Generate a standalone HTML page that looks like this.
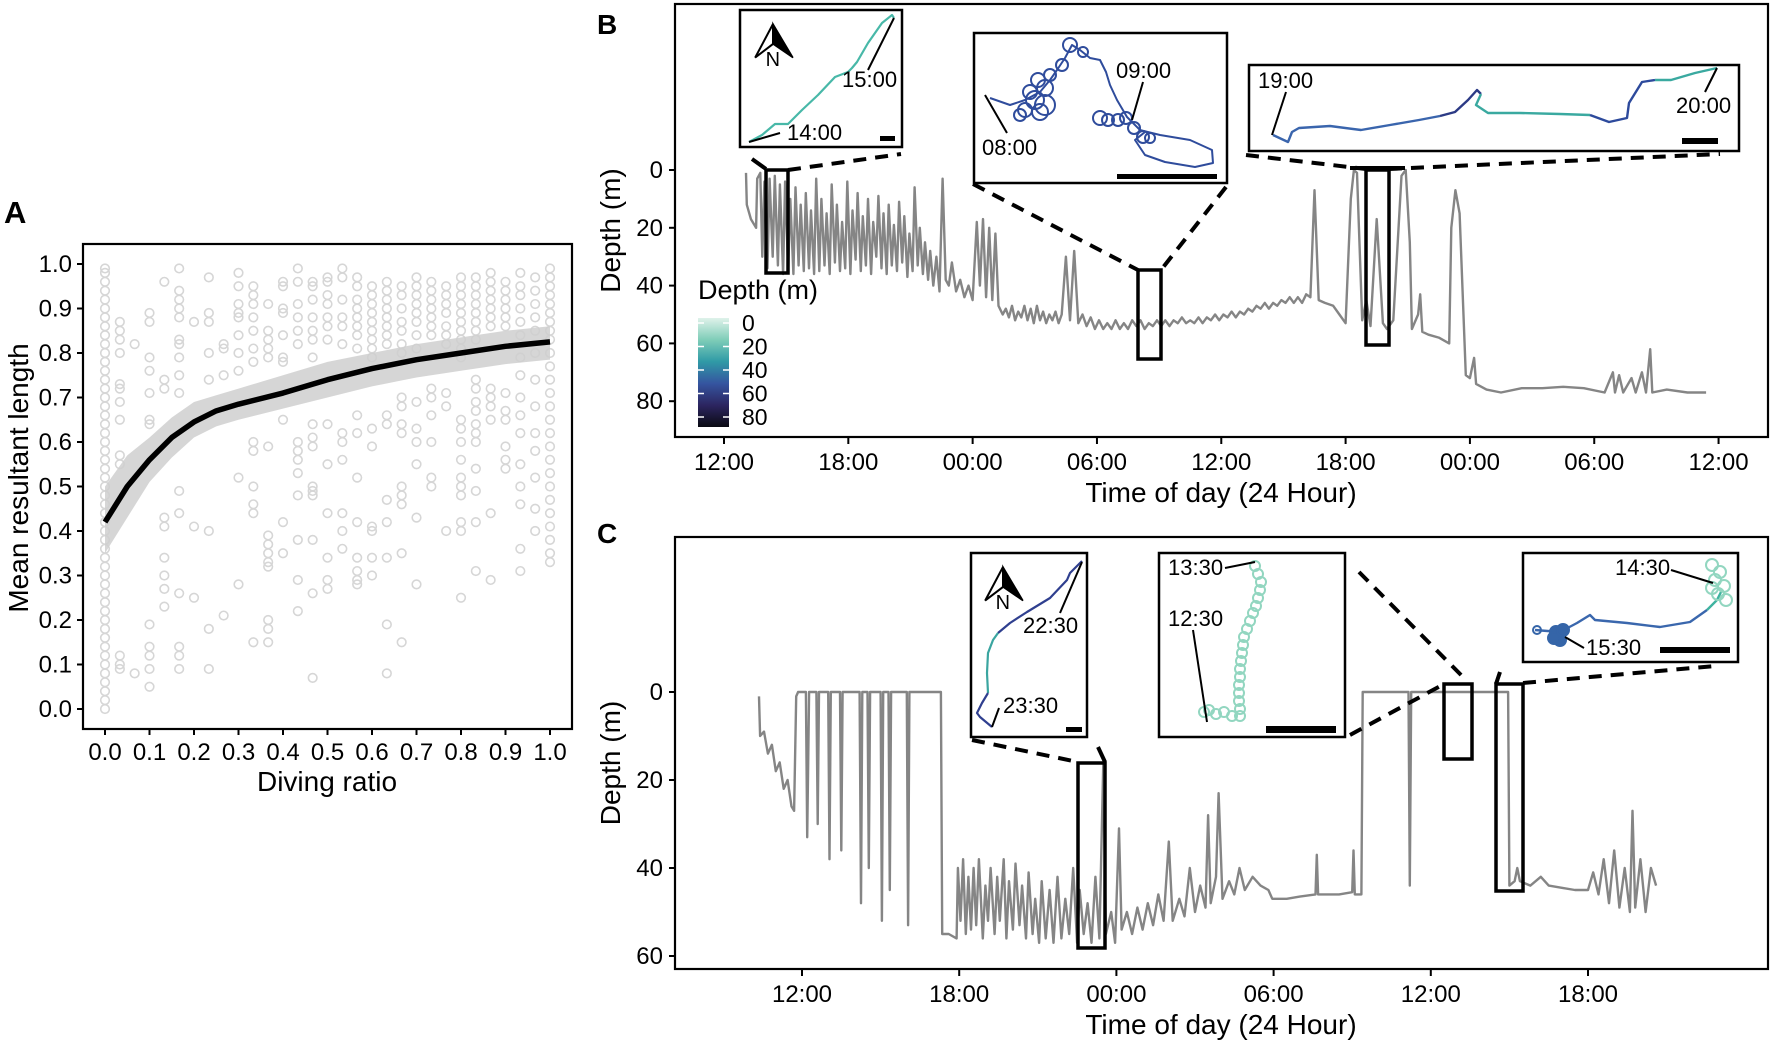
<!DOCTYPE html>
<html><head><meta charset="utf-8">
<style>
html,body{margin:0;padding:0;background:#fff;}
svg{display:block;font-family:"Liberation Sans",Arial,sans-serif;}
</style></head>
<body>
<svg id="fig" width="1772" height="1045" viewBox="0 0 1772 1045" xmlns="http://www.w3.org/2000/svg">
<defs>
<linearGradient id="cbar" x1="0" y1="0" x2="0" y2="1">
<stop offset="0" stop-color="#dff2ea"/><stop offset="0.2" stop-color="#7fcdb8"/><stop offset="0.4" stop-color="#2f9aa6"/><stop offset="0.6" stop-color="#3555a0"/><stop offset="0.8" stop-color="#2c2560"/><stop offset="1" stop-color="#0a0a12"/>
</linearGradient>
</defs>
<g id="panelA"></g>
<g id="panelB"></g>
<g id="panelC"></g>
</svg>
<script>
// ---------- Panel A data ----------
const aColumns = [
 [0,0.02,0.04,0.06,0.08,0.1,0.12,0.14,0.16,0.18,0.2,0.22,0.24,0.26,0.28,0.3,0.32,0.34,0.36,0.38,0.4,0.42,0.44,0.46,0.48,0.5,0.52,0.54,0.56,0.58,0.6,0.62,0.64,0.66,0.68,0.7,0.72,0.74,0.76,0.78,0.8,0.82,0.84,0.86,0.88,0.9,0.92,0.94,0.96,0.98,0.99],
 [0.87,0.85,0.83,0.80,0.73,0.72,0.69,0.65,0.57,0.55,0.12,0.10,0.09],
 [0.82,0.08],
 [0.89,0.87,0.79,0.76,0.71,0.65,0.64,0.19,0.14,0.12,0.09,0.05],
 [0.96,0.74,0.72,0.43,0.41,0.34,0.30,0.27,0.23],
 [0.99,0.94,0.92,0.90,0.88,0.83,0.82,0.79,0.75,0.71,0.49,0.44,0.26,0.14,0.12,0.09],
 [0.87,0.41,0.25],
 [0.97,0.89,0.87,0.80,0.74,0.40,0.18,0.09],
 [0.82,0.81,0.75,0.21],
 [0.98,0.95,0.91,0.89,0.88,0.84,0.80,0.76,0.52,0.28],
 [0.95,0.93,0.91,0.88,0.85,0.81,0.78,0.60,0.58,0.50,0.46,0.44,0.15],
 [0.91,0.85,0.83,0.81,0.79,0.59,0.39,0.37,0.35,0.33,0.32,0.20,0.18,0.15],
 [0.96,0.95,0.90,0.89,0.84,0.79,0.78,0.65,0.42,0.35],
 [0.99,0.96,0.91,0.88,0.85,0.82,0.60,0.58,0.56,0.53,0.48,0.38,0.29,0.22],
 [0.96,0.95,0.92,0.88,0.85,0.83,0.79,0.64,0.61,0.59,0.50,0.49,0.48,0.38,0.26,0.07],
 [0.97,0.96,0.93,0.91,0.88,0.86,0.83,0.64,0.55,0.44,0.34,0.29,0.27],
 [0.99,0.97,0.92,0.88,0.86,0.82,0.62,0.60,0.56,0.44,0.40,0.36],
 [0.97,0.95,0.92,0.90,0.88,0.86,0.84,0.81,0.66,0.62,0.52,0.42,0.34,0.31,0.29,0.28],
 [0.95,0.93,0.91,0.89,0.87,0.85,0.83,0.81,0.79,0.63,0.59,0.41,0.40,0.34,0.30],
 [0.96,0.94,0.92,0.90,0.88,0.86,0.84,0.82,0.66,0.64,0.47,0.42,0.34,0.19,0.08],
 [0.95,0.93,0.90,0.87,0.85,0.82,0.80,0.70,0.68,0.64,0.62,0.50,0.48,0.46,0.35,0.15],
 [0.97,0.95,0.93,0.91,0.89,0.87,0.84,0.81,0.69,0.63,0.60,0.55,0.43,0.28],
 [0.96,0.94,0.92,0.90,0.88,0.86,0.84,0.72,0.70,0.66,0.60,0.52,0.50],
 [0.95,0.93,0.91,0.89,0.86,0.84,0.82,0.71,0.68,0.40],
 [0.97,0.95,0.93,0.91,0.89,0.87,0.85,0.83,0.81,0.79,0.65,0.63,0.60,0.56,0.52,0.50,0.48,0.42,0.40,0.25],
 [0.97,0.95,0.93,0.91,0.89,0.87,0.85,0.83,0.74,0.72,0.69,0.67,0.64,0.62,0.60,0.54,0.49,0.42,0.31],
 [0.98,0.96,0.94,0.92,0.90,0.88,0.86,0.72,0.70,0.68,0.65,0.44,0.29],
 [0.96,0.94,0.92,0.90,0.88,0.86,0.71,0.67,0.65,0.59,0.56,0.54],
 [0.98,0.95,0.93,0.90,0.87,0.84,0.79,0.75,0.70,0.66,0.62,0.55,0.50,0.46,0.36,0.31],
 [0.97,0.94,0.91,0.88,0.85,0.80,0.74,0.68,0.62,0.58,0.52,0.45,0.40],
 [0.99,0.97,0.95,0.93,0.91,0.89,0.87,0.85,0.83,0.80,0.77,0.74,0.71,0.68,0.65,0.62,0.59,0.56,0.53,0.50,0.47,0.44,0.41,0.38,0.35,0.33]
];
const aFitX = [0,0.05,0.1,0.15,0.2,0.25,0.3,0.4,0.5,0.6,0.7,0.8,0.9,1.0];
const aFitY = [0.42,0.50,0.56,0.61,0.645,0.67,0.685,0.71,0.74,0.765,0.785,0.80,0.815,0.825];
const aFitLo = [0.35,0.43,0.51,0.565,0.61,0.635,0.65,0.675,0.70,0.725,0.745,0.76,0.775,0.785];
const aFitHi = [0.50,0.57,0.61,0.655,0.69,0.705,0.72,0.75,0.78,0.80,0.82,0.835,0.85,0.86];
const aTicks = ["0.0","0.1","0.2","0.3","0.4","0.5","0.6","0.7","0.8","0.9","1.0"];

// ---------- Panel B data (hours after 12:00 day 1, depth m) ----------
const bHours = [1.06,1.1,1.3,1.55,1.6,1.75,1.85,1.95,2.1,2.2,2.35,2.45,2.6,2.7,2.85,2.95,3.1,3.2,3.35,3.45,3.6,3.7,3.85,3.95,4.1,4.2,4.35,4.45,4.6,4.7,4.85,4.95,5.1,5.2,5.35,5.45,5.6,5.7,5.85,5.95,6.1,6.2,6.35,6.45,6.6,6.7,6.85,6.95,7.1,7.2,7.35,7.45,7.6,7.7,7.85,7.95,8.1,8.2,8.35,8.45,8.6,8.7,8.85,8.95,9.1,9.2,9.35,9.45,9.6,9.7,9.85,9.95,10.1,10.25,10.4,10.55,10.7,10.85,11.0,11.2,11.4,11.6,11.8,12.0,12.2,12.35,12.5,12.65,12.8,12.95,13.1,13.25,
13.45,13.6,13.75,13.9,14.05,14.2,14.35,14.5,14.65,14.8,14.95,15.1,15.25,15.4,15.55,15.7,15.85,16.0,16.15,16.3,16.5,16.7,16.9,17.1,17.3,17.5,17.7,17.9,18.1,18.3,18.5,18.7,18.9,19.1,19.3,19.5,19.7,19.9,20.1,20.3,20.5,20.7,20.9,21.1,21.3,21.5,21.7,21.9,22.1,22.3,22.5,22.7,22.9,23.1,23.3,23.5,23.7,23.9,24.1,24.3,24.5,24.7,24.9,25.1,25.3,25.5,25.7,25.9,26.1,26.3,26.5,26.7,26.9,27.1,27.3,27.5,27.7,27.9,28.1,28.3,
28.5,28.7,29.0,29.4,29.7,30.0,30.25,30.4,30.55,30.8,31.0,31.2,31.5,31.8,32.0,32.3,32.7,32.9,33.1,33.2,33.5,33.6,33.7,34.0,34.5,35.0,35.1,35.3,35.5,35.8,36.0,36.2,36.3,36.8,37.5,38.5,39.5,40.5,41.5,42.5,42.9,43.0,43.2,43.4,43.8,44.0,44.3,44.5,44.7,44.8,45.5,46.5,47.4];
const bDepth = [1,12,17,20,3,1,30,4,34,3,30,2,33,5,36,4,35,10,36,6,33,12,35,8,34,14,36,3,35,10,33,15,36,5,32,12,35,18,34,4,36,14,31,8,35,16,33,10,36,18,30,9,34,15,36,12,33,19,35,11,32,16,37,22,35,6,33,20,36,25,38,28,40,30,42,3,38,40,32,42,38,44,40,45,18,40,17,44,20,45,22,47,
50,48,51,47,52,49,51,47,52,48,53,47,52,49,53,50,52,49,53,50,30,52,28,53,50,54,51,55,52,55,53,55,52,55,53,55,52,54,52,55,53,54,52,54,52,54,52,53,51,53,52,53,51,53,51,52,50,52,50,51,49,51,49,50,48,49,47,48,46,48,46,47,45,46,44,46,44,46,43,44,
7,45,46,47,50,53,10,0,1,52,45,54,17,53,55,52,2,0,25,55,50,43,56,57,58,60,20,7,15,71,72,65,74,76,77,75.5,75.5,75,75.5,77,70,77,71,77,72,77,70,77,62,77,76,77,77];
const bXTicks = ["12:00","18:00","00:00","06:00","12:00","18:00","00:00","06:00","12:00"];
const bYTicks = [0,20,40,60,80];

// ---------- Panel C data (hours after 12:00 day 1, depth m) ----------
const cHours = [-1.64,-1.6,-1.45,-1.3,-1.15,-1.0,-0.85,-0.7,-0.55,-0.4,-0.3,-0.22,-0.15,0.15,0.2,0.27,0.55,0.6,0.65,1.0,1.05,1.1,1.45,1.5,1.55,2.2,2.25,2.3,2.5,2.55,2.6,3.0,3.05,3.1,3.3,3.35,3.4,4.0,4.05,4.1,5.3,5.35,5.6,5.9,5.95,6.05,6.15,6.25,6.35,6.45,6.55,6.65,6.75,6.9,7.0,7.1,7.2,7.35,7.45,7.55,7.7,7.8,7.9,8.05,8.15,8.3,8.4,8.55,8.65,8.8,8.9,9.05,9.15,9.3,9.45,9.6,9.75,9.9,10.05,10.2,10.35,10.5,10.6,10.75,10.9,11.05,11.2,11.35,11.5,11.6,11.8,11.95,12.1,12.2,12.4,12.6,12.8,13.0,13.2,13.4,13.6,13.8,14.0,14.15,14.4,14.6,14.8,15.0,15.2,15.4,15.5,15.6,15.8,15.9,16.05,16.3,16.5,16.7,16.9,17.2,17.5,17.8,17.95,18.5,19.0,19.6,19.65,19.7,20.5,21.0,21.05,21.1,21.35,21.4,23.15,23.2,23.25,26.95,27.0,27.2,27.3,27.4,27.8,28.2,28.5,29.0,29.5,30.0,30.2,30.4,30.6,30.8,31.0,31.2,31.4,31.6,31.7,31.8,32.0,32.2,32.4,32.6];
const cDepth = [1,10,9,14,12,18,16,22,20,26,27,1,0,0,33,0,0,30,0,0,38,0,0,36,0,0,48,0,0,40,0,0,52,0,0,45,0,0,53,0,0,55,55,56,40,52,38,55,42,54,40,53,38,56,44,52,40,55,42,52,38,56,43,54,39,53,44,56,41,55,47,57,43,56,45,57,42,56,47,55,40,57,45,55,48,57,42,56,16,55,50,57,31,54,50,55,49,54,48,53,46,52,34,52,47,51,40,50,44,49,28,48,42,23,47,43,46,40,45,42,44,45,47,47,46.5,46,37,46,46,45.5,36,46,46,0,0,44,0,0,44,43,40,43,44,42,44,44.5,45,45,41,46,38,48,36,49,40,50,27,49,38,50,40,44];
const cXTicks = ["12:00","18:00","00:00","06:00","12:00","18:00"];
const cYTicks = [0,20,40,60];

const NS = "http://www.w3.org/2000/svg";
function mk(parent, tag, attrs, text){
  const el = document.createElementNS(NS, tag);
  for (const k in attrs) el.setAttribute(k, attrs[k]);
  if (text !== undefined) el.textContent = text;
  parent.appendChild(el);
  return el;
}
const gA = document.getElementById('panelA');
const gB = document.getElementById('panelB');
const gC = document.getElementById('panelC');

// ===== Panel A =====
const ax = v => 105 + v * 445;
const ay = v => 709 - v * 445;
let t;
t = mk(gA,'text',{x:4,y:223,'font-size':31,'font-weight':'bold'},'A');
 
const aPts = mk(gA,'g',{fill:'none',stroke:'#d6d6d6','stroke-width':1.6});
 
aColumns.forEach((col,k)=>{
  col.forEach(v=>{
    const c = mk(aPts,'circle',{cx:ax(k/30),cy:ay(v),r:4.3});
    
    
  });
});
let rib = '';
aFitX.forEach((x,i)=>{ rib += (i?'L':'M') + ax(x) + ',' + ay(aFitHi[i]); });
for (let i=aFitX.length-1;i>=0;i--) rib += 'L' + ax(aFitX[i]) + ',' + ay(aFitLo[i]);
const ribbon = mk(gA,'path',{d:rib+'Z',fill:'#cfcfcf','fill-opacity':0.85,stroke:'none'});
 
let fit = '';
aFitX.forEach((x,i)=>{ fit += (i?'L':'M') + ax(x) + ',' + ay(aFitY[i]); });
const fitLine = mk(gA,'path',{d:fit,fill:'none',stroke:'#000','stroke-width':5.5,'stroke-linejoin':'round'});
 
const aBox = mk(gA,'rect',{x:83,y:244,width:489,height:485,fill:'none',stroke:'#000','stroke-width':2.2});
 
aTicks.forEach((lab,i)=>{
  const v = i/10;
  mk(gA,'line',{x1:77,x2:83,y1:ay(v),y2:ay(v),stroke:'#000','stroke-width':2});
  const yl = mk(gA,'text',{x:72,y:ay(v)+8,'font-size':24,'text-anchor':'end'},lab);
   
  mk(gA,'line',{x1:ax(v),x2:ax(v),y1:729,y2:735,stroke:'#000','stroke-width':2});
  const xl = mk(gA,'text',{x:ax(v),y:760,'font-size':24,'text-anchor':'middle'},lab);
   
});
t = mk(gA,'text',{x:327,y:791,'font-size':28,'text-anchor':'middle'},'Diving ratio');
 
t = mk(gA,'text',{x:0,y:0,'font-size':28,'text-anchor':'middle',transform:'translate(28,478) rotate(-90)'},'Mean resultant length');
 

// ===== helper for depth panels =====
function depthPanel(g, cfg){
  const sx = h => cfg.x0 + h * cfg.pxh;
  const sy = d => cfg.y0 + d * cfg.pxm;
  let d = '';
  cfg.hours.forEach((h,i)=>{ d += (i?'L':'M') + sx(h).toFixed(1) + ',' + sy(cfg.depth[i]).toFixed(1); });
  const tr = mk(g,'path',{d:d,fill:'none',stroke:'#858585','stroke-width':2.4,'stroke-linejoin':'round'});
   
  const fr = mk(g,'rect',{x:675,y:cfg.top,width:1093,height:cfg.bottom-cfg.top,fill:'none',stroke:'#000','stroke-width':2.2});
   
  cfg.yticks.forEach(v=>{
    mk(g,'line',{x1:669,x2:675,y1:sy(v),y2:sy(v),stroke:'#000','stroke-width':2});
    const l = mk(g,'text',{x:663,y:sy(v)+8,'font-size':24,'text-anchor':'end'},String(v));
     
  });
  cfg.xticks.forEach((lab,i)=>{
    const x = sx(i*6);
    mk(g,'line',{x1:x,x2:x,y1:cfg.bottom,y2:cfg.bottom+7,stroke:'#000','stroke-width':2});
    const l = mk(g,'text',{x:x,y:cfg.bottom+33,'font-size':24,'text-anchor':'middle'},lab);
     
  });
  const xt = mk(g,'text',{x:1221,y:cfg.bottom+65,'font-size':28,'text-anchor':'middle'},'Time of day (24 Hour)');
   
  const yt = mk(g,'text',{x:0,y:0,'font-size':28,'text-anchor':'middle',transform:'translate(620,'+((cfg.top+cfg.bottom)/2+10)+') rotate(-90)'},'Depth (m)');
   
}

// ===== Panel B =====
depthPanel(gB,{x0:724,pxh:20.72,y0:170,pxm:2.89,top:4,bottom:437,hours:bHours,depth:bDepth,xticks:bXTicks,yticks:bYTicks});
t = mk(gB,'text',{x:597,y:34,'font-size':28,'font-weight':'bold'},'B');
 
t = mk(gB,'text',{x:698,y:299,'font-size':27},'Depth (m)');
 
t = mk(gB,'rect',{x:698,y:318,width:31,height:109,fill:'url(#cbar)'});
 
[0,20,40,60,80].forEach((v,i)=>{
  const y = 323 + i*23.5;
  mk(gB,'line',{x1:698,x2:704,y1:y,y2:y,stroke:'#fff','stroke-width':1.5});
  mk(gB,'line',{x1:723,x2:729,y1:y,y2:y,stroke:'#fff','stroke-width':1.5});
  const l = mk(gB,'text',{x:742,y:y+8,'font-size':23},String(v));
   
});
function zoomRect(g,x1,y1,x2,y2){
  const r = mk(g,'rect',{x:x1,y:y1,width:x2-x1,height:y2-y1,fill:'none',stroke:'#000','stroke-width':3.5});
   
}
function dash(g,x1,y1,x2,y2){
  const l = mk(g,'line',{x1:x1,y1:y1,x2:x2,y2:y2,stroke:'#000','stroke-width':4,'stroke-dasharray':'13 9'});
   
}
zoomRect(gB,766,170,788,273);
mk(gB,'line',{x1:752,y1:159,x2:766,y2:169,stroke:'#000','stroke-width':4});
dash(gB,788,170,901,154);
zoomRect(gB,1138,270,1161,359);
dash(gB,973,184,1138,270);
dash(gB,1226,187,1161,270);
zoomRect(gB,1366,170,1389,345);
dash(gB,1246,155,1366,169);
dash(gB,1389,169,1720,154);
mk(gB,'line',{x1:1350,y1:168,x2:1405,y2:168,stroke:'#000','stroke-width':4});

function inset(g,x1,y1,x2,y2,name){
  const r = mk(g,'rect',{x:x1,y:y1,width:x2-x1,height:y2-y1,fill:'#fff',stroke:'#000','stroke-width':2.5});
   
}
function label(g,x,y,s,name){
  const l = mk(g,'text',{x:x,y:y,'font-size':22},s);
   
}
function leader(g,x1,y1,x2,y2){ mk(g,'line',{x1:x1,y1:y1,x2:x2,y2:y2,stroke:'#000','stroke-width':2}); }
function bar(g,x1,y1,x2,y2){
  const r = mk(g,'rect',{x:x1,y:y1,width:x2-x1,height:y2-y1,fill:'#000'});
   
}
function north(g,ax_,ay_,s){
  const n = mk(g,'g',{});
   
  mk(n,'path',{d:`M${ax_},${ay_} L${ax_-17*s},${ay_+32*s} L${ax_},${ay_+19*s} Z`,fill:'#fff',stroke:'#000','stroke-width':2});
  mk(n,'path',{d:`M${ax_},${ay_} L${ax_+19*s},${ay_+32*s} L${ax_},${ay_+19*s} Z`,fill:'#000',stroke:'#000','stroke-width':1.5});
  mk(n,'text',{x:ax_-7*s,y:ay_+40*s,'font-size':19*s},'N');
}
function track(g,d,color,w){
  const p = mk(g,'path',{d:d,fill:'none',stroke:color,'stroke-width':w||2.2,'stroke-linejoin':'round'});
   
}
// B inset 1
inset(gB,740,10,902,147,'inset-map-1');
north(gB,773,24,1.05);
track(gB,'M749,142 L762,135 L775,124 L788,124 L802,110 L818,95 L835,77 L848,72 L852,68 L857,62 L868,43 L882,23 L892,15 L894,18','#48b8a8');
leader(gB,894,18,868,70); leader(gB,749,142,780,133);
label(gB,842,87,'15:00','time-label'); label(gB,787,140,'14:00','time-label');
bar(gB,880,136,895,141);
// B inset 2
inset(gB,974,33,1227,183,'inset-map-2');
const loopC = '#2f4c9c';
track(gB,'M990,98 L1010,105 L1025,100 L1040,92 L1050,80 L1057,70 L1065,58 L1072,45 L1080,50 L1090,58 L1100,60 L1106,72 L1110,85 L1117,100 L1127,117 L1140,130 L1160,135 L1190,140 L1212,150 L1213,163 L1195,167 L1165,162 L1145,155 L1135,140 L1145,132','#2f4c9c',2);
[[1035,100,9],[1040,112,8],[1030,92,7],[1045,88,8],[1025,110,7],[1038,80,7],[1050,75,6],[1062,65,6],[1070,45,7],[1083,52,5],[1020,115,6],[1045,105,10],[1108,120,6],[1118,120,6],[1126,118,6],[1134,128,6],[1143,137,6],[1100,118,7],[1150,138,5]].forEach(c=>{
  mk(gB,'circle',{cx:c[0],cy:c[1],r:c[2],fill:'none',stroke:loopC,'stroke-width':2});
});
leader(gB,985,95,1007,133); leader(gB,1143,82,1132,120);
label(gB,1116,78,'09:00','time-label'); label(gB,982,155,'08:00','time-label');
bar(gB,1117,174,1217,179);
// B inset 3
inset(gB,1249,65,1739,151,'inset-map-3');
track(gB,'M1273,135 L1288,142 L1292,132 L1299,128 L1330,126 L1361,130 L1390,125 L1419,120 L1440,116','#3a65ad',2.4);
track(gB,'M1440,116 L1455,112 L1468,100 L1477,90 L1481,94','#2c3a85',2.4);
track(gB,'M1481,94 L1476,105 L1488,113 L1520,113 L1560,114 L1590,115','#3aa9a0',2.4);
track(gB,'M1590,115 L1609,122 L1627,118 L1629,103 L1642,82 L1655,80','#2d4a9c',2.4);
track(gB,'M1655,80 L1671,80 L1695,73 L1717,68','#3aa9a0',2.4);
leader(gB,1286,92,1272,135); leader(gB,1717,68,1705,92);
label(gB,1258,88,'19:00','time-label'); label(gB,1676,113,'20:00','time-label');
bar(gB,1682,138,1718,144);

// ===== Panel C =====
depthPanel(gC,{x0:802,pxh:26.2,y0:692,pxm:4.4,top:537,bottom:969,hours:cHours,depth:cDepth,xticks:cXTicks,yticks:cYTicks});
t = mk(gC,'text',{x:597,y:543,'font-size':28,'font-weight':'bold'},'C');
 
zoomRect(gC,1078,763,1105,948);
dash(gC,972,740,1078,762);
mk(gC,'line',{x1:1098,y1:747,x2:1105,y2:762,stroke:'#000','stroke-width':4});
zoomRect(gC,1444,684,1472,759);
dash(gC,1350,735,1444,684);
dash(gC,1359,572,1466,680);
zoomRect(gC,1496,684,1523,891);
mk(gC,'line',{x1:1500,y1:672,x2:1496,y2:684,stroke:'#000','stroke-width':4});
dash(gC,1523,683,1715,666);
// C inset 1
inset(gC,971,553,1087,737,'inset-map-4');
north(gC,1003,567,1.05);
track(gC,'M1082,561 L1070,573 L1067,580 L1050,598 L1027,612 L1010,623 L998,633','#2f3f8f',2.2);
track(gC,'M998,633 L993,640 L988,653 L987,673 L988,693','#3aa5a0',2.2);
track(gC,'M988,693 L982,703 L977,713 L980,717 L992,727','#2f3f8f',2.2);
leader(gC,1082,562,1060,613); leader(gC,992,727,999,708);
label(gC,1023,633,'22:30','time-label'); label(gC,1003,713,'23:30','time-label');
bar(gC,1066,727,1082,732);
// C inset 2
inset(gC,1159,553,1345,737,'inset-map-5');
const mint = '#92d6c0';
[[1255,566],[1258,574],[1261,582],[1260,590],[1258,598],[1256,606],[1253,613],[1250,621],[1247,629],[1244,637],[1243,645],[1242,653],[1241,661],[1240,669],[1240,677],[1239,685],[1239,693],[1239,701],[1240,709],[1240,716],[1232,716],[1224,712],[1216,714],[1209,710],[1204,712]].forEach(c=>{
  const m = mk(gC,'circle',{cx:c[0],cy:c[1],r:5,fill:'none',stroke:mint,'stroke-width':2});
   
});
leader(gC,1225,568,1255,562); leader(gC,1193,630,1207,722);
label(gC,1168,575,'13:30','time-label'); label(gC,1168,626,'12:30','time-label');
bar(gC,1266,726,1336,733);
// C inset 3
inset(gC,1523,553,1738,662,'inset-map-6');
track(gC,'M1535,630 L1560,632 L1577,623 L1590,615 L1595,620 L1627,623 L1660,627 L1690,622 L1707,610','#3a67ad',2.4);
track(gC,'M1707,610 L1717,600 L1722,590','#3fb3a0',2.4);
[[1712,565],[1720,572],[1715,580],[1724,586],[1718,594],[1726,600],[1712,588]].forEach(c=>{
  mk(gC,'circle',{cx:c[0],cy:c[1],r:6,fill:'none',stroke:mint,'stroke-width':2});
});
[[1556,632],[1560,640],[1554,638],[1563,630]].forEach(c=>{
  mk(gC,'circle',{cx:c[0],cy:c[1],r:6,fill:'#3565a8',stroke:'#3565a8','stroke-width':2});
});
mk(gC,'circle',{cx:1537,cy:630,r:4,fill:'none',stroke:'#3565a8','stroke-width':2});
leader(gC,1671,570,1713,583); leader(gC,1565,637,1584,648);
label(gC,1615,575,'14:30','time-label'); label(gC,1586,655,'15:30','time-label');
bar(gC,1660,647,1730,653);
</script>
</body></html>
